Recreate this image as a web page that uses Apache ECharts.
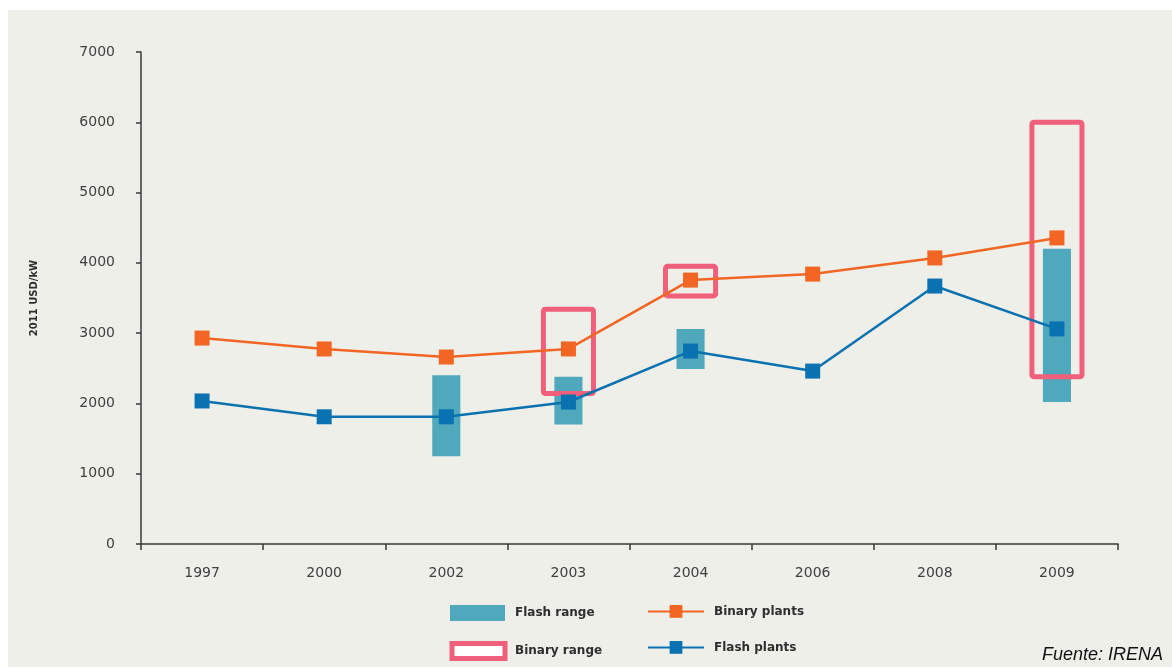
<!DOCTYPE html>
<html>
<head>
<meta charset="utf-8">
<script src="https://cdn.jsdelivr.net/npm/echarts@6/dist/echarts.min.js"></script>
<style>
  html, body { margin: 0; padding: 0; background: #ffffff; }
  #chart { width: 1172px; height: 667px; }
</style>
</head>
<body>
<div id="chart"></div>
<script>
// Installed geothermal cost, 2011 USD/kW
const years = ['1997', '2000', '2002', '2003', '2004', '2006', '2008', '2009'];
const binaryPlants = [2930, 2775, 2660, 2775, 3755, 3840, 4070, 4355];
const flashPlants = [2035, 1810, 1810, 2020, 2745, 2460, 3670, 3060];
// Flash range (low / high); null where no range is reported
const flashRangeLow = [null, null, 1250, 1700, 2490, null, null, 2020];
const flashRangeHigh = [null, null, 2400, 2380, 3060, null, null, 4200];
// Binary range (low / high)
const binaryRangeLow = [null, null, null, 2140, 3530, null, null, 2380];
const binaryRangeHigh = [null, null, null, 3340, 3950, null, null, 6000];
const yTicks = { min: 0, max: 7000, interval: 1000 };

const C_ORANGE = '#f26522';
const C_BLUE = '#0a72b0';
const C_TEAL = '#4fa8bb';
const C_PINK = '#f0607a';
const FONT = 'DejaVu Sans';

function rangeData(lo, hi) {
  const out = [];
  lo.forEach((v, i) => {
    if (v != null && hi[i] != null) out.push([i, v, hi[i]]);
  });
  return out;
}

function rangeRenderer(widthRatio, filled) {
  return function (params, api) {
    const i = api.value(0);
    const top = api.coord([i, api.value(2)]);
    const bot = api.coord([i, api.value(1)]);
    const w = api.size([1, 0])[0] * widthRatio;
    return {
      type: 'rect',
      shape: { x: top[0] - w / 2, y: top[1], width: w, height: bot[1] - top[1], r: filled ? 0 : 2 },
      style: filled
        ? { fill: C_TEAL }
        : { fill: 'none', stroke: C_PINK, lineWidth: 5 }
    };
  };
}

const chart = echarts.init(document.getElementById('chart'), null, { renderer: 'canvas' });

const legendText = { fontFamily: FONT, fontSize: 12, fontWeight: 'bold', color: '#2e2e2e', padding: [0, 0, 0, 5] };

chart.setOption({
  backgroundColor: '#ffffff',
  animation: false,
  graphic: [
    { type: 'rect', z: -100, shape: { x: 8, y: 10, width: 1164, height: 657 }, style: { fill: '#efefea' }, silent: true },
    { type: 'text', left: 1042, top: 646, style: { text: 'Fuente: IRENA', fontFamily: 'Liberation Sans', fontStyle: 'italic', fontSize: 18, fill: '#111111' } }
  ],
  grid: { left: 141, right: 54, top: 52, bottom: 123, containLabel: false },
  legend: [
    { left: 450, top: 605, padding: 0, itemWidth: 55, itemHeight: 16, textStyle: legendText,
      data: [{ name: 'Flash range', icon: 'rect', itemStyle: { color: C_TEAL } }] },
    { left: 647, top: 605, padding: 0, itemWidth: 56, itemHeight: 16, textStyle: legendText,
      data: ['Binary plants'] },
    { left: 449.5, top: 641, padding: 0, itemWidth: 53, itemHeight: 15, textStyle: legendText,
      data: [{ name: 'Binary range', icon: 'path://M0,0L53,0L53,15L0,15Z', itemStyle: { color: '#ffffff', borderColor: C_PINK, borderWidth: 5 } }] },
    { left: 647, top: 641, padding: 0, itemWidth: 56, itemHeight: 16, textStyle: legendText,
      data: ['Flash plants'] }
  ],
  xAxis: {
    type: 'category',
    data: years,
    boundaryGap: true,
    axisLine: { lineStyle: { color: '#3a3a3a', width: 1.5 } },
    axisTick: { show: true, length: 6, lineStyle: { color: '#3a3a3a', width: 1.5 } },
    axisLabel: { margin: 22, fontFamily: FONT, fontSize: 14, color: '#404040' },
    splitLine: { show: false }
  },
  yAxis: {
    type: 'value',
    min: yTicks.min, max: yTicks.max, interval: yTicks.interval,
    name: '2011 USD/kW',
    nameLocation: 'middle',
    nameGap: 102,
    nameTextStyle: { fontFamily: FONT, fontSize: 10, fontWeight: 'bold', color: '#2e2e2e' },
    axisLine: { show: true, lineStyle: { color: '#3a3a3a', width: 1.5 } },
    axisTick: { show: true, length: 5, lineStyle: { color: '#3a3a3a', width: 1.5 } },
    axisLabel: { margin: 26, fontFamily: FONT, fontSize: 14, color: '#404040', formatter: (v) => String(v) },
    splitLine: { show: false }
  },
  series: [
    {
      name: 'Flash range', type: 'custom', z: 1,
      renderItem: rangeRenderer(0.23, true),
      encode: { x: 0, y: [1, 2] },
      itemStyle: { color: C_TEAL },
      data: rangeData(flashRangeLow, flashRangeHigh)
    },
    {
      name: 'Binary range', type: 'custom', z: 2,
      renderItem: rangeRenderer(0.41, false),
      encode: { x: 0, y: [1, 2] },
      itemStyle: { color: C_PINK },
      data: rangeData(binaryRangeLow, binaryRangeHigh)
    },
    {
      name: 'Binary plants', type: 'line', z: 3,
      data: binaryPlants,
      symbol: 'rect', symbolSize: 15,
      lineStyle: { color: C_ORANGE, width: 2.5 },
      itemStyle: { color: C_ORANGE }
    },
    {
      name: 'Flash plants', type: 'line', z: 4,
      data: flashPlants,
      symbol: 'rect', symbolSize: 15,
      lineStyle: { color: C_BLUE, width: 2.5 },
      itemStyle: { color: C_BLUE }
    }
  ]
});
</script>
</body>
</html>
